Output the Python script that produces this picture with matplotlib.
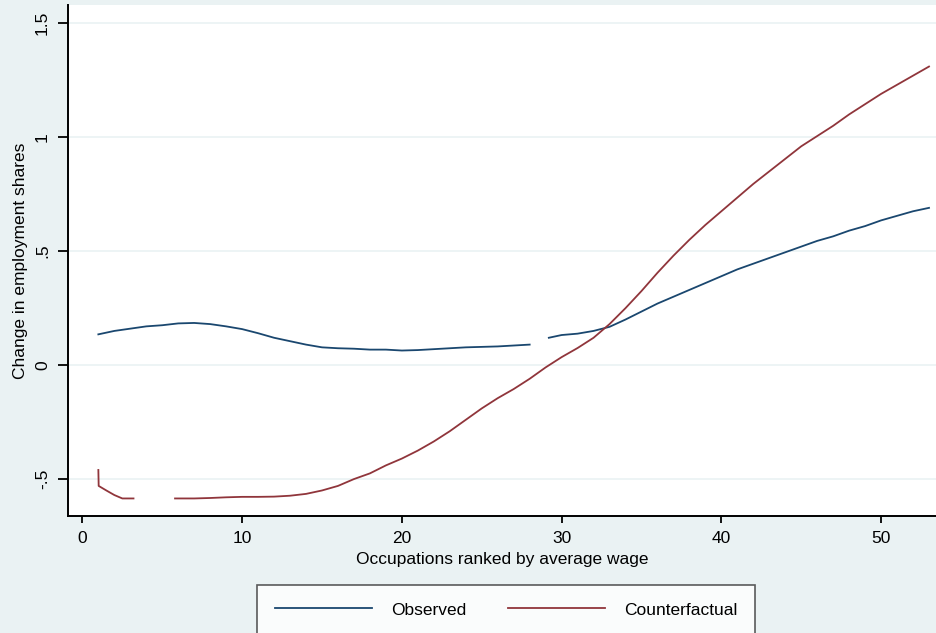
import numpy as np
import matplotlib.pyplot as plt

# occupations ranked by average wage
obs_x = [1, 2, 3, 4, 5, 6, 7, 8, 9, 10, 11, 12, 13, 14, 15, 16, 17, 18, 19, 20,
         21, 22, 23, 24, 25, 26, 27, 28, 28.6, 29.2, 30, 31, 32, 33, 34, 35, 36, 37,
         38, 39, 40, 41, 42, 43, 44, 45, 46, 47, 48, 49, 50, 51, 52, 53]
observed = [0.135, 0.15, 0.16, 0.17, 0.175, 0.183, 0.185, 0.18, 0.17, 0.158, 0.14,
            0.12, 0.105, 0.09, 0.078, 0.074, 0.072, 0.068, 0.068, 0.064, 0.066,
            0.07, 0.074, 0.078, 0.08, 0.082, 0.086, 0.09, np.nan, 0.12, 0.132,
            0.138, 0.15, 0.168, 0.2, 0.235, 0.27, 0.3, 0.33, 0.36, 0.39, 0.42,
            0.445, 0.47, 0.495, 0.52, 0.545, 0.565, 0.59, 0.61, 0.635, 0.655,
            0.675, 0.69]

cf_x = [1, 1.02, 1.5, 2, 2.5, 3.2, 4.5, 5.8, 7, 8, 9, 10, 11, 12, 13, 14, 15, 16,
        17, 18, 19, 20, 21, 22, 23, 24, 25, 26, 27, 28, 29, 30, 31, 32, 33, 34, 35,
        36, 37, 38, 39, 40, 41, 42, 43, 44, 45, 46, 47, 48, 49, 50, 51, 52, 53]
counterfactual = [-0.46, -0.53, -0.55, -0.57, -0.585, -0.585, np.nan, -0.585,
                  -0.585, -0.583, -0.58, -0.578, -0.578, -0.577, -0.573, -0.565,
                  -0.55, -0.53, -0.5, -0.475, -0.44, -0.41, -0.375, -0.335, -0.29,
                  -0.24, -0.19, -0.145, -0.105, -0.06, -0.01, 0.035, 0.075, 0.12,
                  0.18, 0.25, 0.325, 0.405, 0.48, 0.55, 0.615, 0.675, 0.735, 0.795,
                  0.85, 0.905, 0.96, 1.005, 1.05, 1.1, 1.145, 1.19, 1.23, 1.27, 1.31]

y_ticks = [-0.5, 0, 0.5, 1, 1.5]
y_labels = ["-.5", "0", ".5", "1", "1.5"]
x_ticks = [0, 10, 20, 30, 40, 50]

plt.rcParams["font.family"] = ["Liberation Sans", "DejaVu Sans"]

bg = "#eaf2f3"
fs = 12.5
fig = plt.figure(figsize=(9.37, 6.33), dpi=100, facecolor=bg)
ax = fig.add_axes([68 / 937, 1 - 516 / 633, 1 - 68 / 937, 511 / 633])
ax.set_facecolor("white")

for yt in y_ticks:
    ax.axhline(yt, color=bg, lw=1.2, zorder=0)

ax.plot(obs_x, observed, color="#1a476f", lw=1.3, label="Observed")
ax.plot(cf_x, counterfactual, color="#90353b", lw=1.3, label="Counterfactual")

ax.set_xlim(-0.9, 53.5)
ax.set_ylim(-0.662, 1.58)
ax.set_yticks(y_ticks)
ax.set_yticklabels(y_labels, rotation=90, va="center")
ax.set_xticks(x_ticks)

for side in ["top", "right"]:
    ax.spines[side].set_visible(False)
for side in ["left", "bottom"]:
    ax.spines[side].set_linewidth(1.4)
ax.tick_params(axis="y", length=7, width=1.3, labelsize=fs, pad=6)
ax.tick_params(axis="x", length=5, width=1.3, labelsize=fs, pad=6)

ax.set_ylabel("Change in employment shares", fontsize=fs, labelpad=5)
ax.set_xlabel("Occupations ranked by average wage", fontsize=fs, labelpad=4)

leg = fig.legend(loc="upper center", bbox_to_anchor=(506 / 937, 1 - 585 / 633),
                 ncol=2, frameon=True, fancybox=False, fontsize=fs,
                 handlelength=5.6, handletextpad=1.1, columnspacing=2.4,
                 borderpad=1.0, borderaxespad=0)
leg.get_frame().set_edgecolor("#333333")
leg.get_frame().set_linewidth(1.2)

fig.savefig("out.png", dpi=100, facecolor=bg)
